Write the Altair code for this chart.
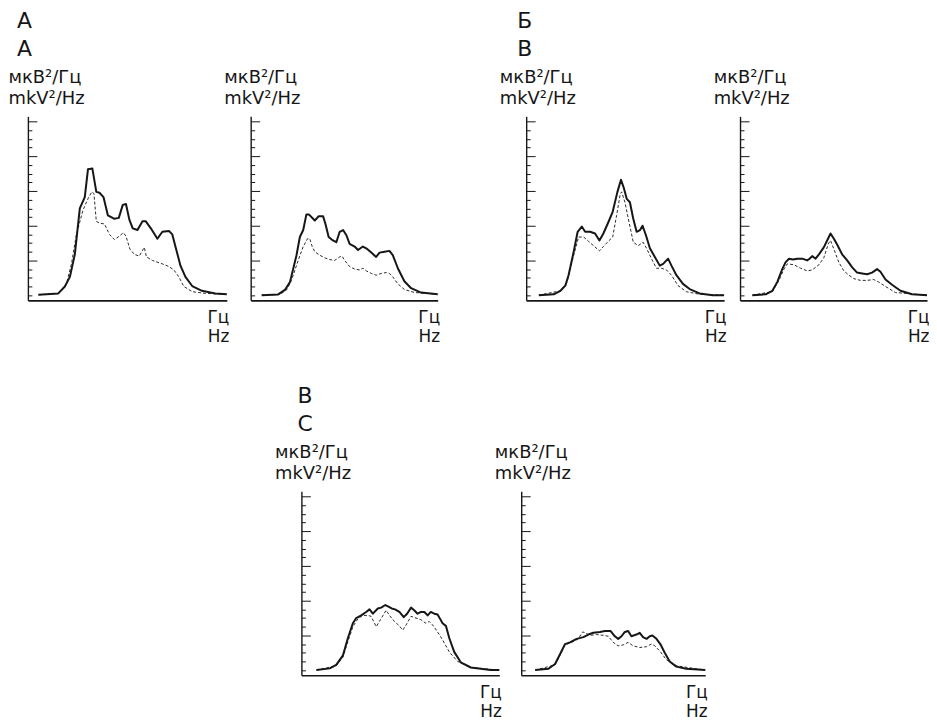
import altair as alt
import pandas as pd

# ---------------- data (x: 0..100 along the frequency axis, y: power in tick units) -------------
p1_solid_x = [5.3, 15.3, 18.6, 21.1, 23.6, 26.1, 28.6, 30.2, 32.4, 34.4, 36.0, 38.0, 40.2, 43.5, 45.7, 47.7, 49.3,
              51.0, 52.7, 55.1, 57.6, 59.3, 61.8, 65.1, 67.6, 70.9, 72.6, 74.3, 76.7, 79.2, 82.6, 87.5, 94.2, 100]
p1_solid_y = [0.04, 0.2, 1.0, 2.1, 4.7, 10.0, 11.3, 14.5, 14.6, 11.9, 11.8, 11.3, 9.2, 8.8, 8.9, 10.4, 10.5,
              8.7, 7.7, 7.5, 8.5, 8.5, 7.7, 6.5, 7.3, 7.4, 7.0, 5.5, 3.4, 2.1, 1.05, 0.5, 0.2, 0.1]
p1_dash_x = [5.3, 15.3, 19.4, 21.9, 24.4, 27.7, 30.2, 32.1, 33.2, 34.4, 36.0, 38.5, 41.0, 43.5, 46.0, 48.0,
             49.3, 51.3, 53.5, 56.0, 58.5, 59.6, 62.6, 67.6, 70.9, 73.4, 75.9, 78.4, 82.6, 89.2, 100]
p1_dash_y = [0.04, 0.2, 1.3, 3.6, 7.0, 9.8, 11.1, 11.9, 11.7, 8.5, 8.3, 8.2, 7.0, 6.4, 6.8, 7.2,
             6.8, 5.3, 4.7, 4.5, 5.5, 4.4, 4.0, 3.6, 3.3, 2.9, 2.1, 1.0, 0.4, 0.2, 0.1]

p2_solid_x = [5.9, 14.7, 18.3, 21.0, 24.5, 26.3, 28.1, 29.8, 31.1, 34.3, 36.4, 38.7, 40.0, 41.7, 44.0, 45.8,
              47.6, 49.4, 51.2, 52.9, 55.6, 57.4, 60.0, 61.8, 64.5, 67.1, 68.9, 71.6, 74.2, 76.0, 78.7, 82.2,
              85.8, 91.1, 100]
p2_solid_y = [0, 0.08, 0.6, 1.5, 4.6, 6.7, 7.5, 9.3, 9.3, 8.6, 9.1, 9.1, 8.2, 6.7, 6.3, 6.1,
              7.3, 7.5, 6.9, 5.9, 5.6, 5.2, 5.6, 5.4, 4.9, 4.4, 4.9, 5.0, 5.1, 4.6, 3.1, 1.6,
              0.8, 0.3, 0.1]
p2_dash_x = [5.9, 15.6, 19.2, 21.8, 25.4, 28.1, 30.4, 31.6, 32.9, 34.3, 36.9, 39.6, 42.3, 44.9, 47.6, 48.8,
             50.3, 52.9, 55.6, 58.3, 60.0, 61.8, 64.5, 67.1, 69.8, 72.5, 74.2, 76.0, 78.7, 82.2, 87.6, 100]
p2_dash_y = [0, 0.08, 0.6, 1.7, 4.0, 5.6, 6.5, 6.5, 5.6, 5.0, 4.6, 4.3, 4.1, 4.0, 4.4, 4.5,
             4.0, 3.3, 3.0, 2.9, 3.1, 2.8, 2.5, 2.3, 2.5, 2.6, 2.5, 2.1, 1.3, 0.65, 0.3, 0.1]

p3_solid_x = [6.4, 13.9, 17.3, 19.8, 21.4, 24.0, 26.0, 28.1, 29.8, 32.3, 34.8, 37.0, 39.0, 41.5, 43.7, 46.1,
              47.9, 49.4, 50.8, 52.4, 54.1, 55.8, 57.5, 58.8, 60.5, 62.5, 65.0, 67.5, 69.2, 71.7, 73.4, 75.9,
              79.2, 82.6, 87.6, 94.3, 100]
p3_solid_y = [0, 0.1, 0.5, 1.1, 2.3, 5.0, 7.3, 7.9, 7.3, 7.3, 7.1, 6.3, 7.1, 8.4, 9.6, 11.9,
              13.3, 12.3, 11.1, 10.7, 8.8, 7.3, 7.5, 8.0, 6.9, 5.4, 4.4, 3.4, 3.6, 4.2, 3.4, 2.3,
              1.3, 0.7, 0.2, 0, 0]
p3_dash_x = [6.4, 17.3, 20.6, 24.0, 26.5, 29.0, 31.5, 34.0, 37.0, 39.0, 41.5, 43.7, 45.7, 47.4, 48.2, 49.9,
             51.6, 54.1, 56.6, 59.1, 60.8, 63.3, 65.8, 68.3, 70.9, 73.4, 76.7, 80.9, 87.6, 100]
p3_dash_y = [0, 0.5, 1.5, 4.6, 6.7, 6.7, 6.2, 5.7, 5.1, 5.6, 6.2, 6.7, 9.2, 11.5, 11.9, 10.7,
             8.8, 6.1, 5.7, 6.1, 5.4, 4.2, 3.1, 3.1, 2.9, 2.3, 1.1, 0.4, 0.1, 0]

p4_solid_x = [6.6, 13.7, 17.3, 19.9, 22.6, 24.4, 26.2, 28.3, 30.6, 33.3, 35.9, 37.2, 38.6, 40.4, 42.2, 44.8,
              46.6, 48.4, 50.2, 52.0, 54.6, 57.3, 60.0, 62.6, 65.3, 68.0, 70.6, 73.3, 75.1, 77.8, 81.3, 85.8,
              92.0, 100]
p4_solid_y = [0, 0.1, 0.5, 1.5, 3.0, 3.8, 4.2, 4.1, 4.2, 4.2, 4.0, 4.2, 4.5, 4.2, 4.7, 5.5,
              6.3, 7.1, 6.5, 5.8, 4.7, 4.0, 3.2, 2.6, 2.5, 2.4, 2.6, 3.0, 2.7, 1.8, 1.2, 0.5,
              0.1, 0]
p4_dash_x = [6.6, 17.3, 20.8, 23.5, 25.3, 28.8, 32.4, 35.9, 38.6, 42.2, 44.8, 47.2, 48.4, 50.2, 52.8, 55.5,
             58.2, 60.9, 64.4, 68.0, 71.5, 74.2, 77.8, 83.1, 100]
p4_dash_y = [0, 0.4, 1.7, 3.0, 3.6, 3.5, 3.1, 2.8, 2.9, 3.5, 4.3, 5.9, 6.3, 5.3, 3.8, 2.8,
             2.3, 1.9, 1.7, 1.7, 1.8, 1.5, 1.0, 0.3, 0]

p5_solid_x = [7.6, 14.3, 17.6, 21.0, 23.5, 26.0, 27.7, 30.2, 32.7, 34.4, 36.1, 38.6, 40.3, 42.4, 44.0, 45.6,
              47.3, 49.5, 51.7, 53.4, 55.4, 57.0, 58.7, 60.4, 62.1, 63.8, 65.4, 67.1, 68.8, 70.1, 71.3, 73.0,
              74.7, 77.2, 80.5, 85.6, 95.6, 100]
p5_solid_y = [0, 0.2, 0.6, 1.7, 3.7, 5.4, 6.0, 6.3, 6.7, 7.0, 6.5, 7.1, 7.2, 7.5, 7.3, 7.1,
              7.0, 6.7, 6.1, 6.5, 7.2, 6.9, 6.5, 6.7, 6.7, 6.3, 6.7, 6.5, 6.4, 5.9, 5.4, 5.1,
              3.7, 2.1, 0.9, 0.3, 0, 0]
p5_dash_x = [7.6, 17.6, 21.0, 23.5, 26.0, 28.5, 31.0, 33.6, 35.2, 37.8, 39.9, 42.8, 44.5, 47.0, 49.5, 51.2,
             52.9, 55.4, 57.9, 60.4, 62.9, 64.6, 66.3, 68.8, 71.3, 74.7, 78.9, 85.6, 100]
p5_dash_y = [0, 0.5, 1.5, 3.3, 5.0, 5.9, 6.3, 6.3, 6.2, 5.0, 5.8, 6.9, 6.3, 5.6, 5.1, 4.6,
             5.2, 6.2, 6.0, 5.8, 5.4, 5.6, 5.2, 4.4, 3.5, 2.1, 1.0, 0.3, 0]

p6_solid_x = [7.6, 14.8, 18.4, 21.5, 23.8, 26.5, 30.1, 33.8, 36.5, 39.2, 42.8, 45.5, 48.6, 50.9, 52.7, 54.5,
              56.3, 58.1, 59.9, 62.6, 64.4, 66.2, 68.1, 69.9, 71.3, 73.5, 75.6, 78.0, 80.7, 84.3, 89.7, 100]
p6_solid_y = [0, 0.15, 0.7, 2.0, 3.0, 3.2, 3.6, 3.8, 4.1, 4.3, 4.4, 4.5, 4.5, 3.9, 3.6, 3.9,
              4.4, 4.5, 3.9, 4.1, 4.3, 3.8, 3.6, 3.9, 4.0, 3.6, 3.0, 2.0, 1.0, 0.4, 0.15, 0]
p6_dash_x = [7.6, 18.4, 21.5, 23.8, 27.4, 31.0, 33.4, 34.7, 37.4, 41.0, 44.6, 47.3, 50.0, 52.7, 55.4, 58.1,
             60.8, 64.4, 68.1, 70.8, 72.6, 75.3, 78.9, 84.3, 100]
p6_dash_y = [0, 0.6, 1.9, 2.9, 3.2, 3.6, 4.4, 4.3, 4.0, 4.1, 4.0, 3.9, 3.2, 2.8, 2.9, 3.2,
             2.8, 2.6, 2.7, 3.0, 2.8, 2.2, 1.2, 0.5, 0]

y_tick_values = list(range(0, 21))
y_title = ["мкВ²/Гц", "mkV²/Hz"]
x_title = ["Гц", "Hz"]
group_labels = ["А\nA", "Б\nB", "В\nC"]

# ---------------- style -------------
FONT = "DejaVu Sans"
INK = "#161616"
H = 185


def make_panel(sx, sy, dxs, dys, width, title_x=-27, label=None, label_dx=-10):
    xs = alt.Scale(domain=[0, 100], nice=False, zero=False)
    ys = alt.Scale(domain=[-0.6, 20.6], nice=False, zero=False)
    x_axis = alt.Axis(ticks=False, labels=False, grid=False, domainColor=INK, domainWidth=1.6,
                      title=x_title, titleFont=FONT, titleFontSize=17, titleFontWeight="normal",
                      titleColor=INK, titleAlign="right", titleBaseline="alphabetic",
                      titleX=width + 2, titleY=22, titleLineHeight=19)
    y_axis = alt.Axis(orient="right", offset=-width, values=y_tick_values, labels=False, grid=False,
                      ticks=True, tickColor=INK, tickWidth=1,
                      tickSize={"condition": {"test": "datum.value % 4 === 0 && datum.value > 0", "value": 9},
                                "value": 4},
                      domainColor=INK, domainWidth=1.4,
                      title=y_title, titleAngle=0, titleAlign="left", titleBaseline="alphabetic",
                      titleX=title_x, titleY=-34, titleLineHeight=21.5, titleFont=FONT, titleFontSize=18,
                      titleFontWeight="normal", titleColor=INK)
    dashed = alt.Chart(pd.DataFrame({"f": dxs, "p": dys})).mark_line(
        color="#2a2a2a", strokeWidth=1, strokeDash=[3, 2]
    ).encode(x=alt.X("f:Q", scale=xs, axis=x_axis), y=alt.Y("p:Q", scale=ys, axis=y_axis))
    solid = alt.Chart(pd.DataFrame({"f": sx, "p": sy})).mark_line(
        color=INK, strokeWidth=2, strokeJoin="round"
    ).encode(x=alt.X("f:Q", scale=xs, axis=x_axis), y=alt.Y("p:Q", scale=ys, axis=y_axis))
    layers = [dashed, solid]
    if label is not None:
        txt = alt.Chart(pd.DataFrame({"t": [label]})).mark_text(
            align="left", baseline="alphabetic", font=FONT, fontSize=22, lineHeight=28,
            lineBreak="\n", color=INK
        ).encode(x=alt.value(label_dx), y=alt.value(-89), text="t:N")
        layers.append(txt)
    return alt.layer(*layers).properties(width=width, height=H)


def gap(w, h=H):
    return alt.Chart(pd.DataFrame({"s": [0]})).mark_point(opacity=0).encode(
        x=alt.value(0), y=alt.value(0)
    ).properties(width=w, height=h)


p1 = make_panel(p1_solid_x, p1_solid_y, p1_dash_x, p1_dash_y, 200, title_x=-20, label=group_labels[0], label_dx=-11)
p2 = make_panel(p2_solid_x, p2_solid_y, p2_dash_x, p2_dash_y, 188)
p3 = make_panel(p3_solid_x, p3_solid_y, p3_dash_x, p3_dash_y, 199, label=group_labels[1], label_dx=-9)
p4 = make_panel(p4_solid_x, p4_solid_y, p4_dash_x, p4_dash_y, 188)
p5 = make_panel(p5_solid_x, p5_solid_y, p5_dash_x, p5_dash_y, 199, label=group_labels[2], label_dx=-4)
p6 = make_panel(p6_solid_x, p6_solid_y, p6_dash_x, p6_dash_y, 185)

top_row = alt.hconcat(p1, gap(24), p2, gap(89), p3, gap(16), p4, spacing=0, bounds="flush")
bottom_row = alt.hconcat(gap(275, 10), p5, gap(22), p6, spacing=0, bounds="flush")

chart = alt.vconcat(
    top_row, bottom_row, spacing=41, padding=0, background="white",
).configure_view(stroke=None)

chart.save("out.html", embed_options={"renderer": "svg", "actions": False})
